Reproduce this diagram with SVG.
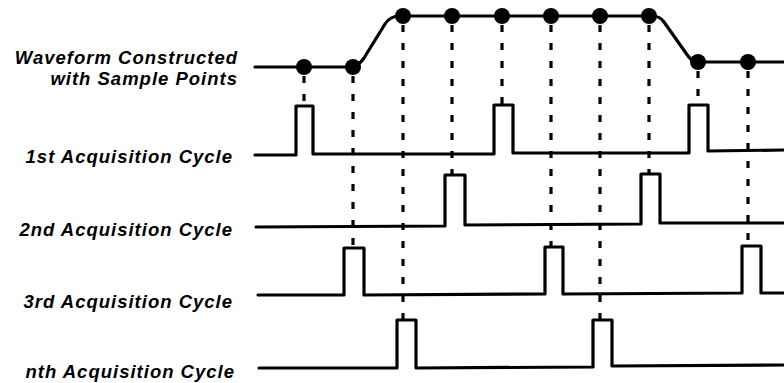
<svg xmlns="http://www.w3.org/2000/svg" width="784" height="383" viewBox="0 0 784 383">
<style>
.lbl{font-family:"Liberation Sans",Arial,sans-serif;font-weight:bold;font-style:italic;font-size:18.5px;letter-spacing:1px;fill:#000;text-anchor:end}
.sig{fill:none;stroke:#000;stroke-width:3.2;stroke-linejoin:round;stroke-linecap:round}
.dash{fill:none;stroke:#000;stroke-width:3.2;stroke-dasharray:7 11}
.dot{fill:#000}
</style>
<rect width="784" height="383" fill="#fff"/>
<g id="connectors">
<line class="dash" x1="304" y1="76" x2="304" y2="106"/>
<line class="dash" x1="353" y1="76" x2="353" y2="247"/>
<line class="dash" x1="403" y1="25" x2="403" y2="319"/>
<line class="dash" x1="452" y1="25" x2="452" y2="175"/>
<line class="dash" x1="502" y1="25" x2="502" y2="105"/>
<line class="dash" x1="551" y1="25" x2="551" y2="246"/>
<line class="dash" x1="600" y1="25" x2="600" y2="319"/>
<line class="dash" x1="649" y1="25" x2="649" y2="174"/>
<line class="dash" x1="698" y1="71" x2="698" y2="105"/>
<line class="dash" x1="748" y1="71" x2="748" y2="246"/>
</g>
<g id="waveform">
<text class="lbl" x="238" y="63.5">Waveform Constructed</text>
<text class="lbl" x="238" y="85">with Sample Points</text>
<path class="sig" d="M255,67 L350,67 Q358,67 364,58 L385,24 Q390,16 400,16 L652,16 Q660,16 664,22 L688,56 Q692,62 700,62 L784,62"/>
<circle class="dot" cx="304" cy="67" r="8"/>
<circle class="dot" cx="353" cy="67" r="8"/>
<circle class="dot" cx="403" cy="16" r="8"/>
<circle class="dot" cx="452" cy="16" r="8"/>
<circle class="dot" cx="502" cy="16" r="8"/>
<circle class="dot" cx="551" cy="16" r="8"/>
<circle class="dot" cx="600" cy="16" r="8"/>
<circle class="dot" cx="649" cy="16" r="8"/>
<circle class="dot" cx="698" cy="62" r="8"/>
<circle class="dot" cx="748" cy="62" r="8"/>
</g>
<g id="cycle1">
<text class="lbl" x="233" y="163">1st Acquisition Cycle</text>
<path class="sig" d="M255,155 L296,155 L296,106 L313,106 L313,154 L494,154 L494,105 L513,105 L513,153 L689,153 L689,105 L708,105 L708,151 L784,150"/>
</g>
<g id="cycle2">
<text class="lbl" x="233" y="236">2nd Acquisition Cycle</text>
<path class="sig" d="M256,227 L445,226 L445,175 L465,175 L465,225 L641,224 L641,174 L660,174 L660,223 L784,223"/>
</g>
<g id="cycle3">
<text class="lbl" x="233" y="308">3rd Acquisition Cycle</text>
<path class="sig" d="M258,295 L344,295 L344,248 L364,248 L364,295 L545,294 L545,247 L563,247 L563,294 L742,293 L742,246 L761,246 L761,293 L784,293"/>
</g>
<g id="cycleN">
<text class="lbl" x="235" y="378">nth Acquisition Cycle</text>
<path class="sig" d="M259,368 L397,368 L397,320 L416,320 L416,368 L593,367 L593,320 L612,320 L612,366 L784,365"/>
</g>
</svg>
